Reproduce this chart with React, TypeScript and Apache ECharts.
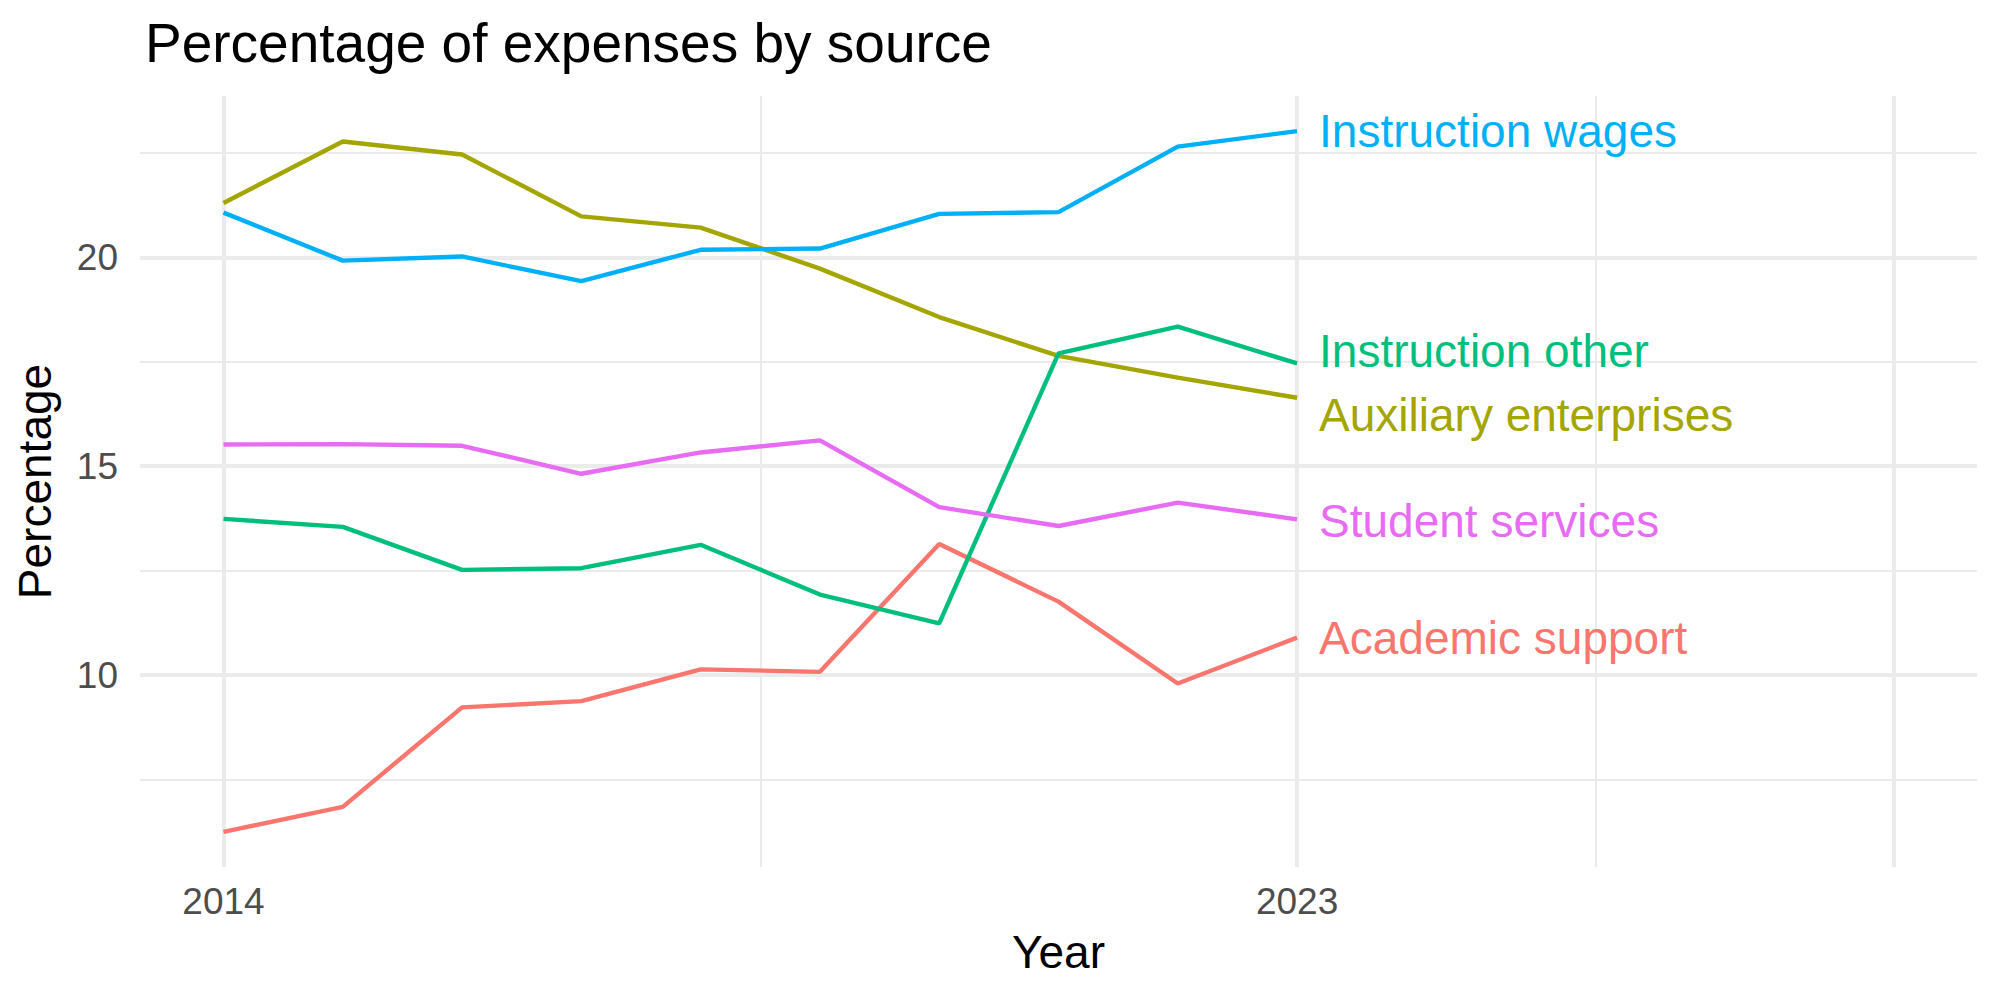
import React, { useEffect, useRef } from "react";
import * as echarts from "echarts";

// Yearly share of expenses (percent) by source
const years = [2014, 2015, 2016, 2017, 2018, 2019, 2020, 2021, 2022, 2023];
const academicSupport = [6.25, 6.85, 9.23, 9.38, 10.14, 10.08, 13.14, 11.76, 9.8, 10.9];
const auxiliaryEnterprises = [21.3, 22.77, 22.46, 20.98, 20.71, 19.73, 18.57, 17.64, 17.12, 16.64];
const instructionOther = [13.74, 13.55, 12.52, 12.56, 13.12, 11.93, 11.24, 17.7, 18.34, 17.46];
const instructionWages = [21.07, 19.92, 20.02, 19.43, 20.18, 20.21, 21.04, 21.08, 22.65, 23.02];
const studentServices = [15.52, 15.53, 15.49, 14.82, 15.33, 15.62, 14.02, 13.57, 14.13, 13.73];

const seriesNames = [
  "Academic support",
  "Auxiliary enterprises",
  "Instruction other",
  "Instruction wages",
  "Student services",
];
const seriesValues = [academicSupport, auxiliaryEnterprises, instructionOther, instructionWages, studentServices];
const seriesColors = ["#F8766D", "#A3A500", "#00BF7D", "#00B0F6", "#E76BF3"];

// Vertical anchor of each end label (spread apart so they do not overlap)
const labelYear = 2023;
const labelAnchors = [10.88, 16.22, 17.75, 23.02, 13.69];

// Axis ranges, ticks and grid lines
const xRange = [2013.3, 2028.7];
const yRange = [5.41, 23.86];
const xTickLabels = [2014, 2023];
const yTickLabels = [10, 15, 20];
const xMajorGrid = [2014, 2023, 2028];
const xMinorGrid = [2018.5, 2025.5];
const yMajorGrid = [10, 15, 20];
const yMinorGrid = [7.5, 12.5, 17.5, 22.5];

const FONT = "'Liberation Sans', Arial, Helvetica, sans-serif";
const GRID_COLOR = "#EBEBEB";

export default function App() {
  const ref = useRef<HTMLDivElement>(null);

  useEffect(() => {
    if (!ref.current) return;
    const chart = echarts.init(ref.current, undefined, { renderer: "svg" });

    const major = { lineStyle: { color: GRID_COLOR, width: 4, type: "solid" } };
    const minor = { lineStyle: { color: GRID_COLOR, width: 2, type: "solid" } };
    const gridLines = [
      ...xMinorGrid.map((v) => ({ xAxis: v, ...minor })),
      ...yMinorGrid.map((v) => ({ yAxis: v, ...minor })),
      ...xMajorGrid.map((v) => ({ xAxis: v, ...major })),
      ...yMajorGrid.map((v) => ({ yAxis: v, ...major })),
    ];

    const lineSeries = seriesNames.map((name, i) => ({
      name,
      type: "line",
      z: 3,
      data: years.map((y, j) => [y, seriesValues[i][j]]),
      showSymbol: false,
      symbol: "none",
      lineStyle: { color: seriesColors[i], width: 4.4 },
      itemStyle: { color: seriesColors[i] },
      silent: true,
    }));

    const labelSeries = {
      name: "labels",
      type: "scatter",
      z: 4,
      symbolSize: 0,
      silent: true,
      itemStyle: { opacity: 1 },
      data: seriesNames.map((name, i) => ({
        name,
        value: [labelYear, labelAnchors[i]],
        itemStyle: { color: seriesColors[i], opacity: 1 },
        label: { color: seriesColors[i] },
      })),
      label: {
        show: true,
        position: "right",
        distance: 22,
        formatter: (p: any) => p.name,
        fontSize: 46,
        fontFamily: FONT,
        opacity: 1,
        textBorderWidth: 0,
        textBorderColor: "transparent",
      },
    };

    chart.setOption({
      animation: false,
      backgroundColor: "#FFFFFF",
      title: {
        text: "Percentage of expenses by source",
        left: 140,
        top: 10,
        textStyle: { fontSize: 55, fontWeight: "normal", color: "#000000", fontFamily: FONT },
      },
      grid: { left: 140, right: 23, top: 96, bottom: 133, containLabel: false },
      xAxis: {
        type: "value",
        min: xRange[0],
        max: xRange[1],
        name: "Year",
        nameLocation: "middle",
        nameGap: 62,
        nameTextStyle: { fontSize: 46, color: "#000000", fontFamily: FONT },
        axisLine: { show: false },
        axisTick: { show: false },
        splitLine: { show: false },
        axisLabel: {
          customValues: xTickLabels,
          fontSize: 37,
          color: "#4D4D4D",
          fontFamily: FONT,
          margin: 16,
          formatter: (v: number) => String(v),
        },
      },
      yAxis: {
        type: "value",
        min: yRange[0],
        max: yRange[1],
        name: "Percentage",
        nameLocation: "middle",
        nameRotate: 90,
        nameGap: 82,
        nameTextStyle: { fontSize: 46, color: "#000000", fontFamily: FONT },
        axisLine: { show: false },
        axisTick: { show: false },
        splitLine: { show: false },
        axisLabel: {
          customValues: yTickLabels,
          fontSize: 37,
          color: "#4D4D4D",
          fontFamily: FONT,
          margin: 22,
        },
      },
      series: [
        {
          name: "grid",
          type: "line",
          z: 1,
          data: [],
          silent: true,
          markLine: {
            z: 1,
            silent: true,
            symbol: ["none", "none"],
            label: { show: false },
            animation: false,
            data: gridLines,
          },
        },
        ...lineSeries,
        labelSeries,
      ],
    });

    return () => chart.dispose();
  }, []);

  return (
    <div
      ref={ref}
      style={{ position: "fixed", left: 0, top: 0, width: 2000, height: 1000, background: "#FFFFFF" }}
    />
  );
}
